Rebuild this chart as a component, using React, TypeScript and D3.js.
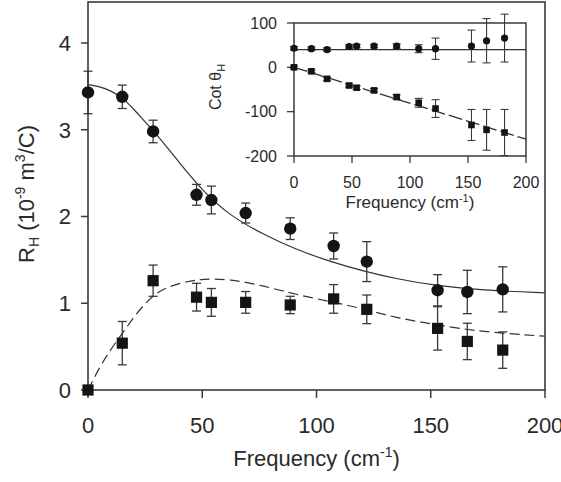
import React from "react";
import * as d3 from "d3";

// ---- Main panel data ----
const freq = [0, 15, 28.5, 47.5, 54, 69, 88.5, 107.5, 122, 153, 166, 181.5];
const rhCircle = [3.43, 3.38, 2.98, 2.25, 2.19, 2.04, 1.86, 1.66, 1.48, 1.15, 1.13, 1.16];
const rhCircleErr = [0.245, 0.135, 0.13, 0.12, 0.16, 0.115, 0.125, 0.15, 0.23, 0.18, 0.25, 0.26];
const rhSquare = [0, 0.54, 1.26, 1.07, 1.01, 1.01, 0.98, 1.05, 0.93, 0.71, 0.56, 0.46];
const rhSquareErr = [0, 0.25, 0.18, 0.16, 0.16, 0.125, 0.1, 0.165, 0.165, 0.25, 0.21, 0.21];

const solidFitF = [0, 5, 10, 15, 20, 25, 30, 40, 50, 62, 77, 91, 106, 120, 135, 153, 172, 200];
const solidFitV = [3.52, 3.5, 3.45, 3.37, 3.24, 3.09, 2.95, 2.62, 2.3, 2.01, 1.79, 1.62, 1.48, 1.375, 1.28, 1.2, 1.15, 1.12];
const dashFitF = [0, 5, 10, 15, 20, 25, 30, 35, 43, 50, 62, 77, 91, 106, 120, 135, 153, 172, 200];
const dashFitV = [0, 0.26, 0.47, 0.65, 0.84, 1.0, 1.12, 1.19, 1.25, 1.28, 1.28, 1.2, 1.1, 1.02, 0.94, 0.83, 0.75, 0.67, 0.62];

const mainXTicks = [0, 50, 100, 150, 200];
const mainYTicks = [0, 1, 2, 3, 4];

// ---- Inset data ----
const cotCircle = [43, 42, 40, 47, 48, 48, 48, 42, 42, 48, 60, 66];
const cotCircleErr = [4, 4, 4, 4, 4, 4, 5, 9, 24, 36, 50, 54];
const cotSquare = [0, -9, -26, -41, -46, -52, -67, -80, -93, -130, -141, -147];
const cotSquareErr = [3, 3, 4, 4, 4, 4, 5, 10, 20, 35, 46, 52];
const cotFlatF = [0, 200];
const cotFlatV = [40, 40];
const cotLineF = [0, 200];
const cotLineV = [0, -162];

const insetXTicks = [0, 50, 100, 150, 200];
const insetYTicks = [100, 0, -100, -200];

const FONT = "'Liberation Sans', Arial, Helvetica, sans-serif";
const TXT = "#2a2a2a";
const MARK = "#141414";
const AX = "#3a3a3a";

export default function App() {
  const x = d3.scaleLinear().domain([0, 200]).range([88, 545]);
  const y = d3.scaleLinear().domain([0, 4]).range([390, 43]);
  const ix = d3.scaleLinear().domain([0, 200]).range([294, 526]);
  const iy = d3.scaleLinear().domain([-200, 100]).range([156, 23]);

  const mainLine = d3
    .line<[number, number]>()
    .x((d) => x(d[0]))
    .y((d) => y(d[1]))
    .curve(d3.curveBasis);
  const insetLine = d3
    .line<[number, number]>()
    .x((d) => ix(d[0]))
    .y((d) => iy(d[1]));

  const solidPts = solidFitF.map((f, i) => [f, solidFitV[i]] as [number, number]);
  const dashPts = dashFitF.map((f, i) => [f, dashFitV[i]] as [number, number]);
  const flatPts = cotFlatF.map((f, i) => [f, cotFlatV[i]] as [number, number]);
  const slopePts = cotLineF.map((f, i) => [f, cotLineV[i]] as [number, number]);

  const errBar = (
    key: string,
    cx: number,
    yTop: number,
    yBot: number,
    cap: number,
    sw: number
  ) => (
    <g key={key} stroke={AX} strokeWidth={sw}>
      <line x1={cx} x2={cx} y1={yTop} y2={yBot} />
      <line x1={cx - cap / 2} x2={cx + cap / 2} y1={yTop} y2={yTop} />
      <line x1={cx - cap / 2} x2={cx + cap / 2} y1={yBot} y2={yBot} />
    </g>
  );

  return (
    <svg
      width={561}
      height={482}
      style={{ position: "absolute", left: 0, top: 0, background: "#fff" }}
      fontFamily={FONT}
    >
      <rect x={0} y={0} width={561} height={482} fill="#fff" />

      {/* main frame */}
      <rect x={x(0)} y={2} width={x(200) - x(0)} height={y(0) - 2} fill="none" stroke={AX} strokeWidth={1.6} />

      {/* main x ticks */}
      {mainXTicks.map((t) => (
        <g key={"mx" + t}>
          <line x1={x(t)} x2={x(t)} y1={y(0)} y2={y(0) + 8} stroke={AX} strokeWidth={1.5} />
          <text x={x(t)} y={433} textAnchor="middle" fontSize={22} fill={TXT}>
            {t}
          </text>
        </g>
      ))}
      {/* main y ticks */}
      {mainYTicks.map((t) => (
        <g key={"my" + t}>
          <line x1={x(0) - 7} x2={x(0)} y1={y(t)} y2={y(t)} stroke={AX} strokeWidth={1.5} />
          <text x={71} y={y(t)} dy="0.36em" textAnchor="end" fontSize={22} fill={TXT}>
            {t}
          </text>
        </g>
      ))}

      {/* main axis titles */}
      <text x={(x(0) + x(200)) / 2} y={466} textAnchor="middle" fontSize={22} fill={TXT}>
        Frequency (cm
        <tspan fontSize={14} dy={-9}>-1</tspan>
        <tspan dy={9}>)</tspan>
      </text>
      <text transform="translate(34,194) rotate(-90)" textAnchor="middle" fontSize={22} fill={TXT}>
        R<tspan fontSize={14} dy={5}>H</tspan>
        <tspan dy={-5}> (10</tspan>
        <tspan fontSize={14} dy={-9}>-9</tspan>
        <tspan dy={9}> m</tspan>
        <tspan fontSize={14} dy={-9}>3</tspan>
        <tspan dy={9}>/C)</tspan>
      </text>

      {/* main fit curves */}
      <path d={mainLine(solidPts) || ""} fill="none" stroke="#333" strokeWidth={1.2} />
      <path d={mainLine(dashPts) || ""} fill="none" stroke="#333" strokeWidth={1.2} strokeDasharray="10,5" />

      {/* main error bars */}
      {freq.map((f, i) =>
        rhCircleErr[i] > 0
          ? errBar("ce" + i, x(f), y(rhCircle[i] + rhCircleErr[i]), y(rhCircle[i] - rhCircleErr[i]), 9, 1.3)
          : null
      )}
      {freq.map((f, i) =>
        rhSquareErr[i] > 0
          ? errBar("se" + i, x(f), y(rhSquare[i] + rhSquareErr[i]), y(rhSquare[i] - rhSquareErr[i]), 9, 1.3)
          : null
      )}
      {/* main markers */}
      {freq.map((f, i) => (
        <circle key={"c" + i} cx={x(f)} cy={y(rhCircle[i])} r={6.2} fill={MARK} />
      ))}
      {freq.map((f, i) => (
        <rect key={"s" + i} x={x(f) - 5.6} y={y(rhSquare[i]) - 5.6} width={11.2} height={11.2} fill={MARK} />
      ))}

      {/* ---- inset ---- */}
      <rect x={ix(0)} y={iy(100)} width={ix(200) - ix(0)} height={iy(-200) - iy(100)} fill="none" stroke={AX} strokeWidth={1.5} />
      {insetXTicks.map((t) => (
        <g key={"ix" + t}>
          <line x1={ix(t)} x2={ix(t)} y1={iy(-200)} y2={iy(-200) + 7} stroke={AX} strokeWidth={1.3} />
          <text x={ix(t)} y={188} textAnchor="middle" fontSize={16} fill={TXT}>
            {t}
          </text>
        </g>
      ))}
      {insetYTicks.map((t) => (
        <g key={"iy" + t}>
          <line x1={ix(0) - 7} x2={ix(0)} y1={iy(t)} y2={iy(t)} stroke={AX} strokeWidth={1.3} />
          <text x={277} y={iy(t)} dy="0.36em" textAnchor="end" fontSize={16} fill={TXT}>
            {t}
          </text>
        </g>
      ))}
      <text x={(ix(0) + ix(200)) / 2} y={208} textAnchor="middle" fontSize={17} fill={TXT}>
        Frequency (cm
        <tspan fontSize={11} dy={-6}>-1</tspan>
        <tspan dy={6}>)</tspan>
      </text>
      <text transform="translate(221,87) rotate(-90)" textAnchor="middle" fontSize={16} fill={TXT}>
        Cot θ<tspan fontSize={11} dy={4}>H</tspan>
      </text>

      <path d={insetLine(flatPts) || ""} fill="none" stroke="#333" strokeWidth={1.3} />
      <path d={insetLine(slopePts) || ""} fill="none" stroke="#333" strokeWidth={1.3} strokeDasharray="14,4" />

      {freq.map((f, i) =>
        errBar("ice" + i, ix(f), iy(cotCircle[i] + cotCircleErr[i]), iy(cotCircle[i] - cotCircleErr[i]), 8, 1.1)
      )}
      {freq.map((f, i) =>
        errBar("ise" + i, ix(f), iy(cotSquare[i] + cotSquareErr[i]), iy(cotSquare[i] - cotSquareErr[i]), 8, 1.1)
      )}
      {freq.map((f, i) => (
        <circle key={"ic" + i} cx={ix(f)} cy={iy(cotCircle[i])} r={3.6} fill={MARK} />
      ))}
      {freq.map((f, i) => (
        <rect key={"is" + i} x={ix(f) - 3.3} y={iy(cotSquare[i]) - 3.3} width={6.6} height={6.6} fill={MARK} />
      ))}
    </svg>
  );
}
